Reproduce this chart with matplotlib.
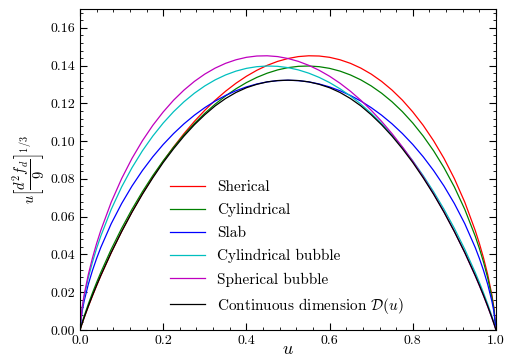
import numpy as np
import matplotlib
matplotlib.use("Agg")
import matplotlib.pyplot as plt
from matplotlib.ticker import MultipleLocator

plt.rcParams['font.family'] = 'cmr10'
plt.rcParams['mathtext.fontset'] = 'cm'
plt.rcParams['axes.formatter.use_mathtext'] = True

# sample points
u = [0, 0.005, 0.01, 0.02, 0.03, 0.04, 0.05, 0.075, 0.1, 0.125, 0.15, 0.175, 0.2,
     0.225, 0.25, 0.275, 0.3, 0.325, 0.35, 0.375, 0.4, 0.425, 0.45, 0.475, 0.5,
     0.525, 0.55, 0.575, 0.6, 0.625, 0.65, 0.675, 0.7, 0.725, 0.75, 0.775, 0.8,
     0.825, 0.85, 0.875, 0.9, 0.925, 0.95, 0.96, 0.97, 0.98, 0.99, 0.995, 1.0]

spherical = [0, 0.00334, 0.00649, 0.01245, 0.01810, 0.02350, 0.02869, 0.04088, 0.05211,
             0.06250, 0.07213, 0.08106, 0.08934, 0.09698, 0.10401, 0.11048, 0.11636,
             0.12169, 0.12646, 0.13069, 0.13438, 0.13753, 0.14016, 0.14225, 0.14378,
             0.14480, 0.14522, 0.14510, 0.14441, 0.14311, 0.14123, 0.13871, 0.13553,
             0.13166, 0.12707, 0.12172, 0.11548, 0.10838, 0.10022, 0.09089, 0.08014,
             0.06767, 0.05275, 0.04587, 0.03818, 0.02939, 0.01866, 0.01181, 0]
cylindrical = [0, 0.00391, 0.00738, 0.01376, 0.01967, 0.02523, 0.03051, 0.04274, 0.05381,
               0.06394, 0.07323, 0.08177, 0.08961, 0.09680, 0.10337, 0.10936, 0.11477,
               0.11964, 0.12396, 0.12775, 0.13102, 0.13377, 0.13601, 0.13774, 0.13895,
               0.13964, 0.13981, 0.13945, 0.13856, 0.13711, 0.13508, 0.13248, 0.12926,
               0.12541, 0.12088, 0.11563, 0.10960, 0.10271, 0.09489, 0.08595, 0.07573,
               0.06386, 0.04974, 0.04324, 0.03598, 0.02767, 0.01757, 0.01111, 0]
slab = [0, 0.00972, 0.01537, 0.02424, 0.03154, 0.03795, 0.04372, 0.05628, 0.06694,
        0.07624, 0.08444, 0.09174, 0.09824, 0.10404, 0.10920, 0.11376, 0.11777,
        0.12125, 0.12422, 0.12671, 0.12873, 0.13029, 0.13140, 0.13206, 0.13228,
        0.13206, 0.13140, 0.13029, 0.12873, 0.12671, 0.12422, 0.12125, 0.11777,
        0.11376, 0.10920, 0.10404, 0.09824, 0.09174, 0.08444, 0.07624, 0.06694,
        0.05628, 0.04372, 0.03795, 0.03154, 0.02424, 0.01537, 0.00972, 0]
cyl_bubble = [0, 0.01111, 0.01757, 0.02767, 0.03598, 0.04324, 0.04974, 0.06386, 0.07573,
              0.08595, 0.09489, 0.10271, 0.10960, 0.11563, 0.12088, 0.12541, 0.12926,
              0.13248, 0.13508, 0.13711, 0.13856, 0.13945, 0.13981, 0.13964, 0.13895,
              0.13774, 0.13601, 0.13377, 0.13102, 0.12775, 0.12396, 0.11964, 0.11477,
              0.10936, 0.10337, 0.09680, 0.08961, 0.08177, 0.07323, 0.06394, 0.05381,
              0.04274, 0.03051, 0.02523, 0.01967, 0.01376, 0.00738, 0.00391, 0]
sph_bubble = [0, 0.01181, 0.01866, 0.02939, 0.03818, 0.04587, 0.05275, 0.06767, 0.08014,
              0.09089, 0.10022, 0.10838, 0.11548, 0.12172, 0.12707, 0.13166, 0.13553,
              0.13871, 0.14123, 0.14311, 0.14441, 0.14510, 0.14522, 0.14480, 0.14378,
              0.14225, 0.14016, 0.13753, 0.13438, 0.13069, 0.12646, 0.12169, 0.11636,
              0.11048, 0.10401, 0.09698, 0.08934, 0.08106, 0.07213, 0.06250, 0.05211,
              0.04088, 0.02869, 0.02350, 0.01810, 0.01245, 0.00649, 0.00334, 0]
continuous = [0, 0.0034, 0.0066, 0.0126, 0.0183, 0.0237, 0.0289, 0.0410, 0.0521,
              0.0624, 0.0719, 0.0806, 0.0887, 0.0960, 0.1027, 0.1087, 0.1140,
              0.1187, 0.1226, 0.1258, 0.1283, 0.1301, 0.1314, 0.1321, 0.1323,
              0.1321, 0.1314, 0.1301, 0.1283, 0.1258, 0.1226, 0.1187, 0.1140,
              0.1087, 0.1027, 0.0960, 0.0887, 0.0806, 0.0719, 0.0624, 0.0521,
              0.0410, 0.0289, 0.0237, 0.0183, 0.0126, 0.0066, 0.0034, 0]

labels = ["Sherical", "Cylindrical", "Slab", "Cylindrical bubble",
          "Spherical bubble", r"Continuous dimension $\mathcal{D}(u)$"]
colors = ["r", "g", "b", "c", "m", "k"]

fig = plt.figure(figsize=(5.06, 3.57), dpi=100)
ax = fig.add_axes([80/506, 1 - 330/357, 416/506, 321/357])

series = [spherical, cylindrical, slab, cyl_bubble, sph_bubble, continuous]
for y, c, lab in zip(series, colors, labels):
    ax.plot(u, y, color=c, lw=0.9, label=lab)

ax.set_xlim(0, 1)
ax.set_ylim(0, 0.17)
ax.xaxis.set_major_locator(MultipleLocator(0.2))
ax.xaxis.set_minor_locator(MultipleLocator(0.04))
ax.yaxis.set_major_locator(MultipleLocator(0.02))
ax.yaxis.set_minor_locator(MultipleLocator(0.004))
ax.xaxis.set_major_formatter(plt.FormatStrFormatter('%.1f'))
ax.yaxis.set_major_formatter(plt.FormatStrFormatter('%.2f'))
ax.tick_params(which='both', direction='in', top=True, right=True, labelsize=10)
ax.tick_params(which='major', length=5)
ax.tick_params(which='minor', length=2.5)

ax.set_xlabel(r"$u$", fontsize=13)
ax.xaxis.set_label_coords(0.5, -0.035)
ax.set_ylabel(r"$u\left[\dfrac{d^2 f_d}{9}\right]^{1/3}$", fontsize=10.5)
ax.yaxis.set_label_coords(-0.08, 0.5)

ax.legend(loc='lower left', bbox_to_anchor=(0.216, 0.045), frameon=False,
          fontsize=11, borderpad=0, borderaxespad=0, handlelength=2.3,
          labelspacing=0.59)

fig.savefig("out.png", dpi=100)
